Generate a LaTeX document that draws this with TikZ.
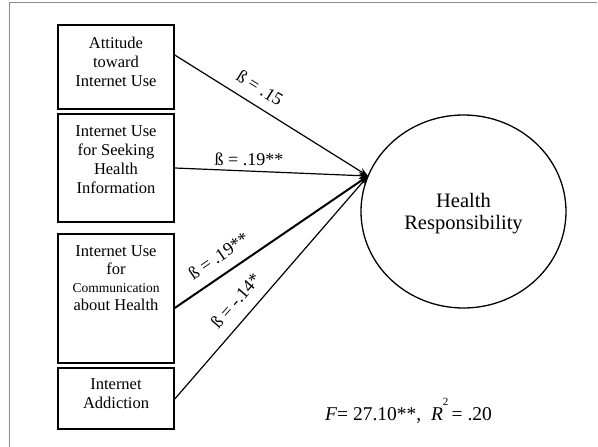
\documentclass[tikz,border=0pt]{standalone}
\usepackage{fontspec}
\setmainfont{Liberation Serif}
\usetikzlibrary{shapes.geometric,arrows.meta}

\tikzset{
  frameline/.style={draw=black!45, line width=1pt},
  varbox/.style={draw, line width=1.5pt, minimum width=116pt, inner sep=0pt},
  boxtext/.style={align=center, font=\fontsize{16.5}{19}\selectfont, inner sep=0pt},
  outcome/.style={draw, ellipse, line width=1.3pt, minimum width=205pt, minimum height=193pt},
  outtext/.style={align=center, font=\fontsize{20.5}{22}\selectfont, inner sep=0pt},
  path/.style={draw, line width=1.2pt, -{Stealth[length=9pt,width=7pt]}},
  coef/.style={font=\fontsize{18}{20}\selectfont, inner sep=0pt},
}

\begin{document}
\begin{tikzpicture}[x=1pt,y=-1pt]
  \useasboundingbox (0,0) rectangle (598,447);
  % page frame
  \draw[frameline] (9,447) -- (9,2) -- (597,2);

  % predictor boxes
  \node[varbox, minimum height=84pt]  (b1) at (116,67) {};
  \node[varbox, minimum height=108pt] (b2) at (116,168) {};
  \node[varbox, minimum height=129pt] (b3) at (116,298.5) {};
  \node[varbox, minimum height=61pt]  (b4) at (116,398.5) {};

  \node[boxtext] (t1) at (116,62) {Attitude\\toward\\Internet Use};
  \node[boxtext] (t2) at (116,160) {Internet Use\\for Seeking\\Health\\Information};
  \node[boxtext, anchor=north, font=\fontsize{16.5}{18}\selectfont] (t3) at (116,245)
    {Internet Use\\for\\{\fontsize{13.5}{17}\selectfont Communication}\\about Health};
  \node[boxtext] (t4) at (116,394) {Internet\\Addiction};

  % outcome
  \node[outcome] (hr) at (463.5,211.5) {};
  \node[outtext] (hrt) at (463.5,214) {Health\\Responsibility};
  \coordinate (hit) at (368,176);

  % paths
  \draw[path] ([yshift=12pt]b1.east) -- (hit);
  \draw[path] (b2.east) -- (hit);
  \draw[path, line width=2pt] ([yshift=-9.5pt]b3.east) -- (hit);
  \draw[path] ([yshift=-0.5pt]b4.east) -- (hit);

  % coefficients
  \node[coef, rotate=-32] (c1) at (260,88) {ß = .15};
  \node[coef] (c2) at (249,159) {ß = .19**};
  \node[coef, rotate=34.4] (c3) at (218.5,256) {ß = .19**};
  \node[coef, rotate=49] (c4) at (235.5,300.5) {ß = -.14*};

  % model fit
  \node[font=\fontsize{19.5}{22}\selectfont, inner sep=0pt] (fit) at (408.5,411)
    {\textit{F}= 27.10**,\ \ \textit{R}\raisebox{0.75em}{\fontsize{11}{12}\selectfont 2}\,= .20};
\end{tikzpicture}
\end{document}
